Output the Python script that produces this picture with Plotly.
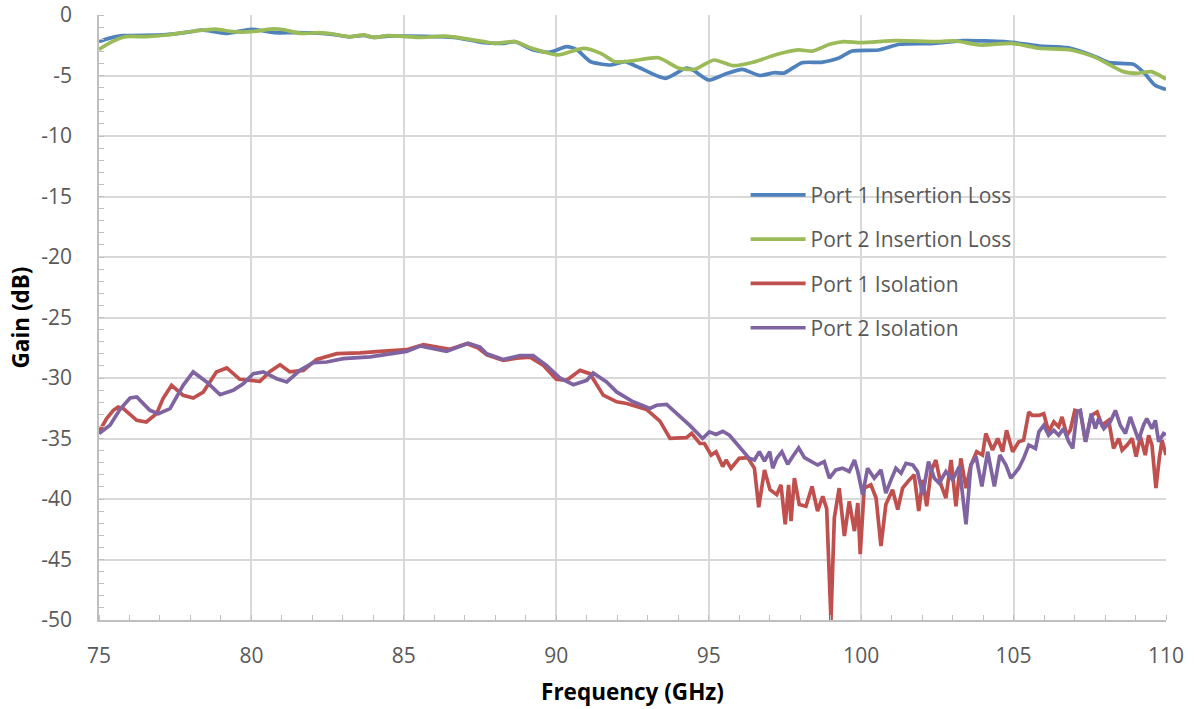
import plotly.graph_objects as go

# ---------------- data ----------------
freq_p1_il = [75.0, 75.32, 75.77, 77.13, 78.03, 78.37, 79.16, 80.0, 80.74, 81.42, 82.2, 82.66,
              83.22, 83.68, 84.01, 84.47, 85.03, 86.15, 86.72, 87.63, 88.3, 88.64, 89.2, 89.77,
              90.34, 90.68, 91.13, 91.8, 92.25, 92.66, 93.58, 94.25, 94.48, 95.0, 95.53, 96.1,
              96.68, 97.14, 97.47, 98.06, 98.7, 99.25, 99.7, 100.57, 101.26, 102.4, 103.33,
              104.7, 105.05, 105.85, 106.77, 107.68, 108.14, 108.94, 109.29, 109.63, 110.0]
gain_p1_il = [-2.2, -1.93, -1.71, -1.65, -1.38, -1.24, -1.52, -1.18, -1.46, -1.46, -1.5, -1.6,
              -1.8, -1.68, -1.85, -1.74, -1.74, -1.79, -1.87, -2.29, -2.34, -2.2, -2.84, -3.09,
              -2.62, -2.89, -3.86, -4.13, -3.86, -4.27, -5.23, -4.4, -4.55, -5.37, -4.9, -4.5,
              -5.0, -4.77, -4.8, -3.94, -3.91, -3.58, -2.98, -2.89, -2.42, -2.34, -2.12,
              -2.2, -2.29, -2.56, -2.7, -3.44, -3.94, -4.08, -4.8, -5.78, -6.15]

freq_p2_il = [75.0, 75.43, 75.88, 76.56, 77.23, 78.14, 78.82, 79.39, 80.0, 80.63, 80.97, 81.64,
              82.21, 82.66, 83.22, 83.68, 84.01, 84.47, 85.59, 86.38, 87.63, 87.97, 88.64, 89.2,
              90.05, 90.9, 91.46, 91.92, 92.54, 93.35, 94.03, 94.55, 95.17, 95.81, 96.45, 97.25,
              97.94, 98.4, 98.97, 99.43, 100.0, 101.15, 102.4, 103.1, 103.9, 104.93, 105.85,
              106.88, 107.68, 108.6, 109.06, 109.52, 110.0]
gain_p2_il = [-2.84, -2.2, -1.79, -1.79, -1.65, -1.32, -1.16, -1.38, -1.38, -1.16, -1.18, -1.52,
              -1.46, -1.57, -1.79, -1.65, -1.85, -1.71, -1.85, -1.74, -2.2, -2.34, -2.2, -2.75,
              -3.3, -2.75, -3.17, -3.86, -3.77, -3.53, -4.4, -4.48, -3.72, -4.19, -3.91, -3.25,
              -2.89, -2.98, -2.42, -2.2, -2.29, -2.12, -2.2, -2.15, -2.48, -2.34, -2.75,
              -2.89, -3.5, -4.68, -4.82, -4.68, -5.3]

freq_p1_iso = [75.0, 75.25, 75.47, 75.63, 75.8, 76.24, 76.55, 76.89, 77.1, 77.38, 77.76, 78.09,
               78.42, 78.85, 79.19, 79.62, 80.28, 80.61, 80.94, 81.26, 81.7, 82.14, 82.8, 83.56,
               84.22, 85.09, 85.64, 86.51, 87.06, 87.44, 87.72, 88.26, 88.7, 89.14, 89.58, 90.0,
               90.34, 90.78, 91.1, 91.54, 91.98, 92.31, 92.96, 93.4, 93.73, 94.27, 94.44, 94.71,
               94.86, 95.08, 95.24, 95.46, 95.57, 95.73, 96.0, 96.28, 96.5, 96.64, 96.83, 97.01,
               97.23, 97.37, 97.51, 97.62, 97.7, 97.81, 97.97, 98.19, 98.39, 98.57, 98.74, 98.87,
               99.01, 99.12, 99.28, 99.45, 99.61, 99.78, 99.89, 99.97, 100.1, 100.32, 100.49,
               100.65, 100.81, 101.03, 101.2, 101.36, 101.58, 101.74, 101.89, 102.02, 102.15,
               102.29, 102.45, 102.62, 102.78, 102.95, 103.11, 103.27, 103.44, 103.6, 103.79,
               103.98, 104.09, 104.31, 104.48, 104.64, 104.77, 104.97, 105.17, 105.33, 105.5,
               105.61, 105.83, 105.99, 106.15, 106.32, 106.48, 106.59, 106.75, 106.86, 107.01,
               107.19, 107.36, 107.55, 107.74, 107.9, 108.12, 108.28, 108.45, 108.56, 108.72,
               108.89, 109.02, 109.16, 109.32, 109.43, 109.54, 109.67, 109.78, 109.87, 110.0]
gain_p1_iso = [-34.46, -33.36, -32.67, -32.4, -32.53, -33.5, -33.64, -32.95, -31.7, -30.6, -31.43, -31.65,
               -31.16, -29.5, -29.17, -30.11, -30.28, -29.45, -28.9, -29.5, -29.37, -28.46, -27.99, -27.93,
               -27.8, -27.66, -27.25, -27.63, -27.16, -27.52, -28.08, -28.55, -28.36, -28.27, -28.96, -30.11,
               -30.19, -29.37, -29.64, -31.42, -31.97, -32.11, -32.6, -33.56, -34.99, -34.93, -34.58, -35.4,
               -35.41, -36.37, -36.09, -37.32, -36.78, -37.46, -36.64, -36.58, -37.46, -40.68, -37.6, -39.23,
               -39.64, -38.83, -42.1, -38.83, -41.83, -38.28, -40.46, -40.6, -38.96, -41.0, -39.78, -40.79,
               -50.0, -41.56, -39.1, -43.06, -40.19, -42.65, -40.33, -44.56, -39.1, -38.83, -39.92,
               -43.88, -40.46, -39.23, -40.87, -39.1, -38.42, -38.0, -41.0, -38.42, -40.6,
               -37.73, -36.78, -38.83, -39.92, -36.78, -40.6, -36.64, -39.1, -37.19, -36.09,
               -36.37, -34.59, -35.96, -35.0, -36.09, -34.32, -36.09, -35.27, -35.14, -32.81,
               -33.09, -33.09, -32.95, -34.45, -33.63, -34.04, -33.22, -34.73, -34.32, -32.68,
               -32.81, -35.27, -33.09, -32.81, -33.91, -33.5, -35.82, -35.0, -35.96, -35.55,
               -35.0, -36.5, -34.86, -36.37, -34.73, -35.55, -39.1, -36.64, -35.14, -36.37]

freq_p2_iso = [75.0, 75.36, 75.69, 76.02, 76.24, 76.67, 76.95, 77.33, 77.76, 78.09, 78.53, 78.97,
               79.4, 79.73, 80.06, 80.39, 80.83, 81.16, 81.59, 82.03, 82.47, 83.01, 83.89, 84.65,
               85.09, 85.53, 86.4, 87.11, 87.5, 87.72, 88.26, 88.81, 89.24, 89.68, 90.12, 90.56,
               91.0, 91.21, 91.65, 91.98, 92.52, 93.07, 93.29, 93.62, 94.06, 94.37, 94.8, 95.02,
               95.24, 95.46, 95.68, 96.11, 96.33, 96.5, 96.66, 96.83, 97.0, 97.1, 97.23, 97.4,
               97.59, 97.75, 97.95, 98.14, 98.36, 98.57, 98.79, 98.96, 99.17, 99.39, 99.61, 99.78,
               99.89, 100.05, 100.21, 100.43, 100.65, 100.81, 100.98, 101.14, 101.31, 101.47,
               101.69, 101.85, 102.02, 102.21, 102.4, 102.56, 102.78, 103.0, 103.22, 103.44,
               103.6, 103.77, 103.96, 104.15, 104.37, 104.55, 104.75, 104.91, 105.0, 105.17,
               105.33, 105.5, 105.72, 105.83, 105.99, 106.15, 106.32, 106.48, 106.64, 106.81,
               106.94, 107.08, 107.19, 107.36, 107.55, 107.68, 107.79, 107.96, 108.17, 108.34,
               108.5, 108.67, 108.83, 108.99, 109.1, 109.26, 109.37, 109.54, 109.65, 109.76,
               109.92, 110.0]
gain_p2_iso = [-34.6, -33.9, -32.59, -31.65, -31.57, -32.67, -32.95, -32.53, -30.6, -29.5, -30.33, -31.38,
               -31.02, -30.47, -29.64, -29.5, -30.06, -30.33, -29.37, -28.73, -28.68, -28.4, -28.26, -27.99,
               -27.8, -27.36, -27.8, -27.13, -27.44, -28.0, -28.47, -28.14, -28.14, -28.96, -30.0, -30.55,
               -30.19, -29.59, -30.33, -31.15, -31.97, -32.52, -32.25, -32.19, -33.2, -33.9, -35.0, -34.45,
               -34.67, -34.4, -34.73, -35.96, -36.64, -36.78, -36.09, -36.86, -36.09, -37.46, -36.64, -36.09,
               -37.13, -36.5, -35.77, -36.58, -36.91, -37.19, -36.91, -38.28, -37.6, -37.46, -37.73, -36.78,
               -37.73, -39.64, -37.46, -38.28, -37.6, -39.51, -38.42, -37.46, -37.87, -37.05,
               -37.19, -37.73, -39.64, -36.91, -38.28, -38.69, -37.73, -38.42, -37.32, -42.1,
               -37.19, -36.5, -38.96, -36.09, -38.96, -36.37, -37.19, -38.28, -38.0, -37.46,
               -36.64, -35.55, -35.82, -34.45, -33.91, -34.73, -34.32, -34.73, -34.18, -35.27,
               -35.82, -32.81, -32.68, -35.27, -32.95, -34.18, -33.36, -34.18, -33.63, -32.68,
               -33.91, -34.59, -33.22, -34.32, -35.14, -33.91, -33.36, -34.18, -33.5, -35.27,
               -34.59, -34.7]

series_names = ["Port 1 Insertion Loss", "Port 2 Insertion Loss", "Port 1 Isolation", "Port 2 Isolation"]
series_colors = ["#4F81BD", "#9BBB59", "#C0504D", "#8064A2"]

x_ticks = [75, 80, 85, 90, 95, 100, 105, 110]
x_ticktext = ["75", "80", "85", "90", "95", "100", "105", "110"]
y_ticks = [0, -5, -10, -15, -20, -25, -30, -35, -40, -45, -50]
y_ticktext = ["0", "-5", "-10", "-15", "-20", "-25", "-30", "-35", "-40", "-45", "-50"]

# ---------------- figure ----------------
fig = go.Figure()
data = [(freq_p1_il, gain_p1_il, "spline"), (freq_p2_il, gain_p2_il, "spline"),
        (freq_p1_iso, gain_p1_iso, "linear"), (freq_p2_iso, gain_p2_iso, "linear")]
for i, (xs, ys, shp) in enumerate(data):
    line = dict(color=series_colors[i], width=3.7, shape=shp)
    if shp == "spline":
        line["smoothing"] = 0.6
    fig.add_trace(go.Scatter(x=xs, y=ys, mode="lines", name=series_names[i],
                             line=line, legendgroup=f"g{i}"))

FONT = "'Open Sans', 'Noto Sans', sans-serif"
tick_font = dict(family=FONT, size=21, color="#595959")
title_font = dict(family=FONT, size=22.5, color="#000000")

fig.update_layout(
    width=1194, height=709,
    margin=dict(l=99, r=28, t=15, b=89),
    paper_bgcolor="white", plot_bgcolor="white",
    showlegend=True,
    legend=dict(x=0.606, y=0.736, xanchor="left", yanchor="top",
                bgcolor="rgba(0,0,0,0)", borderwidth=0,
                font=dict(family=FONT, size=21, color="#595959"),
                tracegroupgap=14, itemwidth=55),
    xaxis=dict(range=[75, 110], tickvals=x_ticks, ticktext=x_ticktext, tickfont=tick_font,
               showgrid=True, gridcolor="#D9D9D9", gridwidth=1.5, zeroline=False, automargin=False,
               showline=True, linecolor="#BFBFBF", linewidth=1.5, ticks="", ticklabelstandoff=16,
               minor=dict(dtick=1, ticks="inside", ticklen=5, tickcolor="#BFBFBF", tickwidth=1.2, showgrid=False),
               title=dict(text="<b>Frequency (GHz)</b>", font=title_font, standoff=16)),
    yaxis=dict(range=[-50, 0], tickvals=y_ticks, ticktext=y_ticktext, tickfont=tick_font,
               showgrid=True, gridcolor="#D9D9D9", gridwidth=1.5, zeroline=False, automargin=False,
               showline=True, linecolor="#BFBFBF", linewidth=1.5, ticks="", ticklabelstandoff=21,
               minor=dict(dtick=1, ticks="inside", ticklen=5, tickcolor="#BFBFBF", tickwidth=1.2, showgrid=False),
               title=dict(text="<b>Gain (dB)</b>", font=title_font, standoff=5)),
)

fig.write_html("out.html", config={"displayModeBar": False},
               post_script="document.body.style.margin='0';")
